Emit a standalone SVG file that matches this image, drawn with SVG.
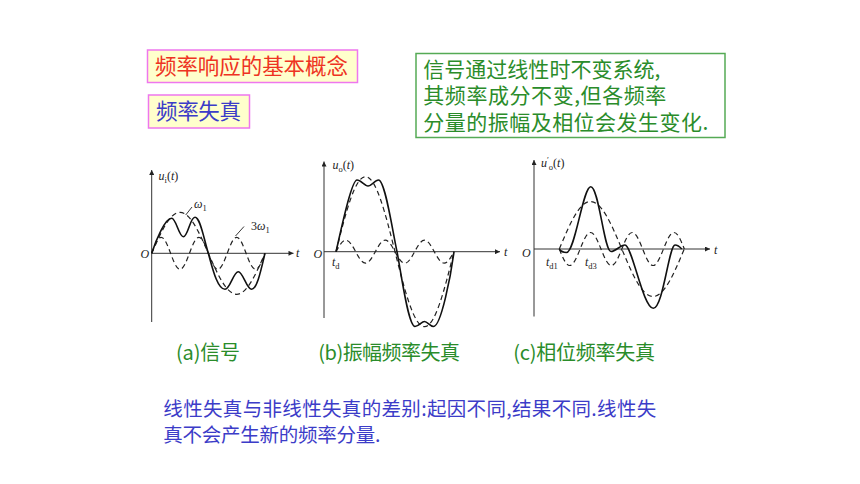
<svg xmlns="http://www.w3.org/2000/svg" width="860" height="484" viewBox="0 0 860 484">
<style>
.cjk{font-family:"Noto Sans CJK SC","Noto Sans CJK TC",sans-serif}
.ax{stroke:#333;stroke-width:1;fill:none}
.sol{stroke:#111;stroke-width:1.6;fill:none;stroke-linejoin:round}
.dsh{stroke:#222;stroke-width:1.2;fill:none;stroke-dasharray:5 3.5}
.lead{stroke:#222;stroke-width:0.9;fill:none}
.lab{font-family:"Liberation Serif","Times New Roman",serif;font-size:12px;fill:#222}
.it{font-style:italic}
.sm{font-size:8.5px}
.tbox{fill:#FFFFCC;stroke:#EE77EE;stroke-width:1.5}
.gbox{fill:#FFFFFF;stroke:#55AA55;stroke-width:1.5}
.red{fill:#EE3322;font-size:21.5px}
.blue{fill:#3C3CC8}
.green{fill:#2A8C2A}
</style>
<defs>
<marker id="arr" viewBox="0 0 10 10" refX="10" refY="5" markerUnits="userSpaceOnUse" markerWidth="9" markerHeight="5" orient="auto">
<path d="M0,0 L10,5 L0,10 z" fill="#222"/>
</marker>
</defs>
<rect width="860" height="484" fill="#FFFFFF"/>

<g id="title1">
<rect class="tbox" x="147.5" y="50" width="210" height="32.5"/>
<text class="cjk red" x="155" y="74" textLength="193">频率响应的基本概念</text>
</g>
<g id="title2">
<rect class="tbox" x="148.5" y="95" width="101" height="33"/>
<text class="cjk blue" x="156" y="119" font-size="21.5" textLength="85">频率失真</text>
</g>
<g id="note-box">
<rect class="gbox" x="416" y="53.5" width="309" height="84"/>
<text class="cjk green" font-size="21" x="423.3" y="76.5" textLength="237">信号通过线性时不变系统,</text>
<text class="cjk green" font-size="21" x="423.3" y="103" textLength="243">其频率成分不变,但各频率</text>
<text class="cjk green" font-size="21" x="423.3" y="129.5" textLength="285">分量的振幅及相位会发生变化.</text>
</g>

<g id="plot-a">
<line class="ax" x1="151.7" y1="322" x2="151.7" y2="170" marker-end="url(#arr)"/>
<line class="ax" x1="151.7" y1="253.3" x2="293.5" y2="253.3" marker-end="url(#arr)"/>
<path class="dsh" d="M151.7,253.3 c9.24,-21 18.08,-41 28.33,-41 c10.25,0 19.09,20 28.33,41 c9.24,21 18.08,41 28.33,41 c10.25,0 19.09,-20 28.33,-41"/>
<path class="dsh" d="M151.7,253.3 c3.08,-8.2 6.02,-16 9.44,-16 c3.42,0 6.36,7.8 9.44,16 c3.08,8.2 6.02,16 9.44,16 c3.42,0 6.36,-7.8 9.44,-16 c3.08,-8.2 6.02,-16 9.44,-16 c3.42,0 6.36,7.8 9.44,16 c3.08,8.2 6.02,16 9.44,16 c3.42,0 6.36,-7.8 9.44,-16 c3.08,-8.2 6.02,-16 9.44,-16 c3.42,0 6.36,7.8 9.44,16 c3.08,8.2 6.02,16 9.44,16 c3.42,0 6.36,-7.8 9.44,-16"/>
<path class="sol" d="M151.7,253.3 C156,240 165,218.3 171.7,218.3 C176,218.3 179,236.7 183.3,236.7 C188,236.7 190,217.3 195,217.3 C200,217.3 203,235 208.3,253.3 C211.9,265.7 217,289.3 225,289.3 C230,289.3 233.5,271.7 238.3,271.7 C243,271.7 246.5,289.3 251.7,289.3 C257,289.3 261,270 265,253.3"/>
<line class="lead" x1="185.7" y1="215" x2="192" y2="207"/>
<line class="lead" x1="235.5" y1="236" x2="244" y2="226.5"/>
<text class="lab" x="158.5" y="180"><tspan class="it">u</tspan><tspan class="sm" dy="3">i</tspan><tspan dy="-3">(</tspan><tspan class="it">t</tspan>)</text>
<text class="lab" x="194" y="208"><tspan class="it">ω</tspan><tspan class="sm" dy="3">1</tspan></text>
<text class="lab" x="251" y="230">3<tspan class="it">ω</tspan><tspan class="sm" dy="3">1</tspan></text>
<text class="lab it" x="140.5" y="257.5">O</text>
<text class="lab it" x="296" y="257">t</text>
</g>

<g id="plot-b">
<line class="ax" x1="324" y1="318" x2="324" y2="161.5" marker-end="url(#arr)"/>
<line class="ax" x1="324" y1="251.7" x2="500" y2="251.7" marker-end="url(#arr)"/>
<path class="dsh" d="M336,251.7 c9.62,-38.42 18.82,-75 29.5,-75 c10.68,0 19.88,36.58 29.5,75 c9.62,38.42 18.82,75 29.5,75 c10.68,0 19.88,-36.58 29.5,-75"/>
<path class="dsh" d="M336,251.7 c3.21,-5.89 6.27,-11.5 9.83,-11.5 c3.56,0 6.62,5.61 9.83,11.5 c3.21,5.89 6.27,11.5 9.83,11.5 c3.56,0 6.62,-5.61 9.83,-11.5 c3.21,-5.89 6.27,-11.5 9.83,-11.5 c3.56,0 6.62,5.61 9.83,11.5 c3.21,5.89 6.27,11.5 9.83,11.5 c3.56,0 6.62,-5.61 9.83,-11.5 c3.21,-5.89 6.27,-11.5 9.83,-11.5 c3.56,0 6.62,5.61 9.83,11.5 c3.21,5.89 6.27,11.5 9.83,11.5 c3.56,0 6.62,-5.61 9.83,-11.5"/>
<path class="sol" d="M336,251.7 C339,239.7 351,180 357,180 C361,180 364.5,186 368,186 C371.5,186 375,180 378.5,180 C385,180 392,228 397,251.7 C400,265.9 408,326.5 415,326.5 C419,326.5 421.5,321.5 424.5,321.5 C427.5,321.5 430,326.5 433.5,326.5 C441,326.5 451,275 454,251.7"/>
<text class="lab" x="332.5" y="169"><tspan class="it">u</tspan><tspan class="sm" dy="3">o</tspan><tspan dy="-3">(</tspan><tspan class="it">t</tspan>)</text>
<text class="lab it" x="313.5" y="257.5">O</text>
<text class="lab" x="332" y="266"><tspan class="it">t</tspan><tspan class="sm" dy="3">d</tspan></text>
<text class="lab it" x="504" y="256">t</text>
</g>

<g id="plot-c">
<line class="ax" x1="534" y1="316.5" x2="534" y2="160" marker-end="url(#arr)"/>
<line class="ax" x1="534" y1="249" x2="710" y2="249" marker-end="url(#arr)"/>
<path class="dsh" d="M559.3,249 c10.19,-24.33 19.94,-47.5 31.25,-47.5 c11.31,0 21.06,23.17 31.25,47.5 c10.19,24.33 19.94,47.5 31.25,47.5 c11.31,0 21.06,-23.17 31.25,-47.5"/>
<path class="dsh" d="M559.3,249 c3.4,8.45 6.65,16.5 10.42,16.5 c3.77,0 7.02,-8.05 10.42,-16.5 c3.4,-8.45 6.65,-16.5 10.42,-16.5 c3.77,0 7.02,8.05 10.42,16.5 c3.4,8.45 6.65,16.5 10.42,16.5 c3.77,0 7.02,-8.05 10.42,-16.5 c3.4,-8.45 6.65,-16.5 10.42,-16.5 c3.77,0 7.02,8.05 10.42,16.5 c3.4,8.45 6.65,16.5 10.42,16.5 c3.77,0 7.02,-8.05 10.42,-16.5 c3.4,-8.45 6.65,-16.5 10.42,-16.5 c3.77,0 7.02,8.05 10.42,16.5"/>
<path class="sol" d="M559.3,249 C561,251.5 563.5,252.5 566.5,252.5 C575,252.5 583,186.7 590.7,186.7 C599,186.7 604,251.5 611,251.5 C616,251.5 620,245 625,245 C632,245 643,308.3 653.3,308.3 C663,308.3 669,245 675,245 C678,245 680,247 681.7,249"/>
<text class="lab" x="541" y="167"><tspan class="it">u</tspan><tspan class="sm" dy="-4.5">′</tspan><tspan class="sm" dy="7.5">o</tspan><tspan dy="-3">(</tspan><tspan class="it">t</tspan>)</text>
<text class="lab it" x="522" y="256.5">O</text>
<text class="lab" x="546" y="266"><tspan class="it">t</tspan><tspan class="sm" dy="3">d1</tspan></text>
<text class="lab" x="585" y="266"><tspan class="it">t</tspan><tspan class="sm" dy="3">d3</tspan></text>
<text class="lab it" x="714" y="253.5">t</text>
</g>

<g id="captions">
<text class="cjk green" font-size="20" x="176" y="359.5" textLength="64">(a)信号</text>
<text class="cjk green" font-size="20" x="318.3" y="359.5" textLength="141.7">(b)振幅频率失真</text>
<text class="cjk green" font-size="20" x="513.3" y="359.5" textLength="141.7">(c)相位频率失真</text>
</g>

<g id="summary">
<text class="cjk blue" font-size="19.5" x="163.3" y="415.5" textLength="493">线性失真与非线性失真的差别:起因不同,结果不同.线性失</text>
<text class="cjk blue" font-size="19.5" x="163.3" y="441.5" textLength="217">真不会产生新的频率分量.</text>
</g>
</svg>
